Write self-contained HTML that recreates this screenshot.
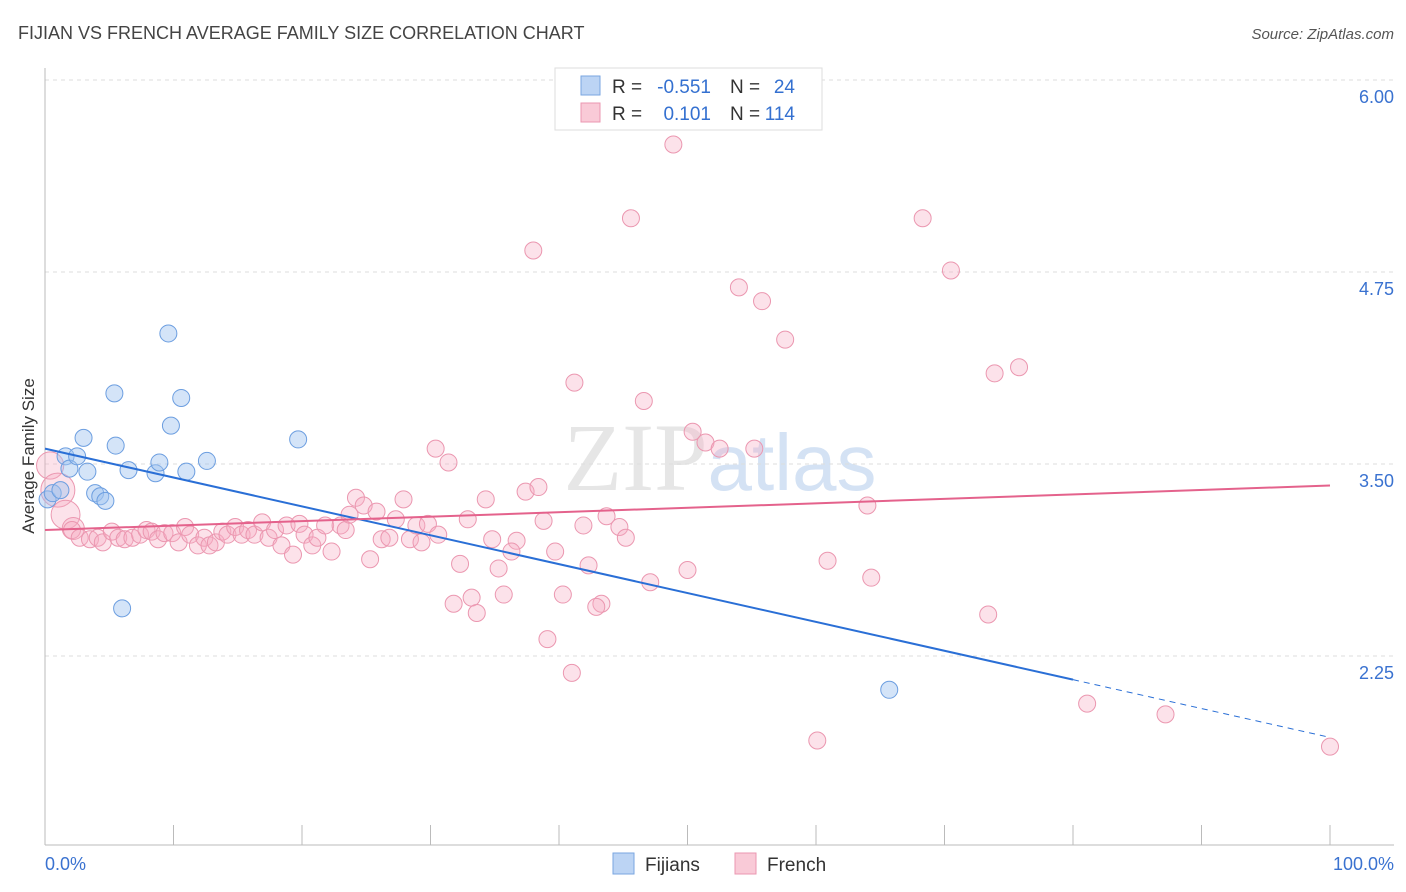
<!DOCTYPE html>
<html><head><meta charset="utf-8">
<style>
body{margin:0;background:#fff;font-family:"Liberation Sans",sans-serif;}
svg{display:block}
</style></head>
<body>
<svg id="chart" width="1406" height="892" xmlns="http://www.w3.org/2000/svg">
<text x="18" y="39" font-size="18" fill="#444">FIJIAN VS FRENCH AVERAGE FAMILY SIZE CORRELATION CHART</text>
<text x="1394" y="39" font-size="15" fill="#555" font-style="italic" text-anchor="end">Source: ZipAtlas.com</text>
<text x="720" y="490" font-size="96" fill="#e6e6e6" text-anchor="middle" font-family="Liberation Serif, serif">ZIP<tspan fill="#d4e2f4" font-family="Liberation Sans, sans-serif" font-size="80">atlas</tspan></text>
<g id="grid"></g>
<g id="axes"></g>
<g id="marks"></g>
<g id="trends"></g>
<text transform="translate(34,456) rotate(-90)" font-size="17" fill="#333" text-anchor="middle">Average Family Size</text>
<g font-size="19">
<rect x="555" y="68" width="267" height="62" fill="#fff" stroke="#ddd"/>
<rect x="581" y="76" width="19" height="19" fill="#bcd4f4" stroke="#7aa6e0"/>
<rect x="581" y="103" width="19" height="19" fill="#f9cad7" stroke="#eb97b0"/>
<text x="612" y="93" fill="#333">R =</text>
<text x="711" y="93" fill="#3470d0" text-anchor="end">-0.551</text>
<text x="730" y="93" fill="#333">N =</text>
<text x="795" y="93" fill="#3470d0" text-anchor="end">24</text>
<text x="612" y="120" fill="#333">R =</text>
<text x="711" y="120" fill="#3470d0" text-anchor="end">0.101</text>
<text x="730" y="120" fill="#333">N =</text>
<text x="795" y="120" fill="#3470d0" text-anchor="end">114</text>
</g>
<g>
<rect x="613" y="853" width="21" height="21" fill="#bcd4f4" stroke="#7aa6e0"/>
<text x="645" y="871" font-size="19" fill="#333">Fijians</text>
<rect x="735" y="853" width="21" height="21" fill="#f9cad7" stroke="#eb97b0"/>
<text x="767" y="871" font-size="19" fill="#333">French</text>
</g>
</svg>
<script>
const yTicks=[6.00,4.75,3.50,2.25];
const yTickLabels=["6.00","4.75","3.50","2.25"];
const xTickLabels=["0.0%","100.0%"];
const fijiX=[0.2,0.6,1.2,1.6,1.9,2.5,3.0,3.3,3.9,4.3,4.7,5.4,5.5,6.0,6.5,8.6,8.9,9.6,9.8,10.6,11.0,12.6,19.7,65.7];
const fijiY=[3.27,3.31,3.33,3.55,3.47,3.55,3.67,3.45,3.31,3.29,3.26,3.96,3.62,2.56,3.46,3.44,3.51,4.35,3.75,3.93,3.45,3.52,3.66,2.03];
const frX=[0.4,1.0,1.6,2.2,2.1,2.7,3.5,4.1,4.5,5.2,5.7,6.2,6.8,7.4,7.9,8.3,8.8,9.3,9.9,10.4,10.9,11.3,11.9,12.4,12.8,13.3,13.8,14.2,14.8,15.3,15.8,16.3,16.9,17.4,17.9,18.4,18.8,19.3,19.8,20.2,20.8,21.2,21.8,22.3,23.0,23.4,25.3,26.2,26.8,27.3,28.4,28.9,29.3,29.8,30.6,
48.9,45.6,68.3,38.0,70.5,54.0,55.8,57.6,41.2,75.8,73.9,46.6,50.4,51.4,52.5,55.2,30.4,31.4,37.4,38.4,34.3,24.2,24.8,27.9,25.8,23.7,43.7,32.9,38.8,41.9,44.7,64.0,45.2,34.8,36.7,36.3,39.7,32.3,42.3,35.3,50.0,60.9,64.3,47.1,35.7,33.2,31.8,40.3,43.3,42.9,33.6,73.4,39.1,41.0,81.1,87.2,60.1,100];
const frY=[3.49,3.33,3.17,3.08,3.07,3.02,3.01,3.02,2.99,3.06,3.02,3.01,3.02,3.04,3.07,3.06,3.01,3.05,3.05,2.99,3.09,3.04,2.97,3.02,2.97,2.99,3.06,3.04,3.09,3.04,3.07,3.04,3.12,3.02,3.07,2.97,3.10,2.91,3.11,3.04,2.97,3.02,3.10,2.93,3.10,3.07,2.88,3.01,3.02,3.14,3.01,3.10,2.99,3.11,3.04,
5.58,5.10,5.10,4.89,4.76,4.65,4.56,4.31,4.03,4.13,4.09,3.91,3.71,3.64,3.60,3.60,3.60,3.51,3.32,3.35,3.27,3.28,3.23,3.27,3.19,3.17,3.16,3.14,3.13,3.10,3.09,3.23,3.02,3.01,3.00,2.93,2.93,2.85,2.84,2.82,2.81,2.87,2.76,2.73,2.65,2.63,2.59,2.65,2.59,2.57,2.53,2.52,2.36,2.14,1.94,1.87,1.70,1.66];
const frWeight=[3.2,4,3.4,2.6];
const fijiTrend=[3.60,1.72];
const frTrend=[3.07,3.36];
const NS="http://www.w3.org/2000/svg";
const X=p=>45+p*12.85, Y=v=>80+(6-v)*153.6;
function mk(tag,attrs,parent){const e=document.createElementNS(NS,tag);for(const k in attrs)e.setAttribute(k,attrs[k]);document.getElementById(parent).appendChild(e);return e;}
yTicks.forEach((t,i)=>{
 const l=mk('line',{x1:45,x2:1394,y1:Y(t),y2:Y(t),stroke:'#ddd','stroke-dasharray':'4,4'},'grid');
 
 
 const tx=mk('text',{x:1394,y:Y(t)+23,'font-size':18,fill:'#3a72d0','text-anchor':'end'},'grid');
 
 
 tx.textContent=yTickLabels[i];
});
mk('line',{x1:45,x2:45,y1:68,y2:845,stroke:'#bbb'},'axes');
mk('line',{x1:45,x2:1394,y1:845,y2:845,stroke:'#bbb'},'axes');
for(let i=0;i<=10;i++){const t=mk('line',{x1:X(i*10),x2:X(i*10),y1:825,y2:845,stroke:'#bbb'},'axes');
 
 }
const a=mk('text',{x:45,y:870,'font-size':18,fill:'#3a72d0'},'axes');a.textContent=xTickLabels[0];

const b=mk('text',{x:1394,y:870,'font-size':18,fill:'#3a72d0','text-anchor':'end'},'axes');b.textContent=xTickLabels[1];

frX.forEach((x,i)=>{const r=8.5*(i<frWeight.length?frWeight[i]/2:1);
 const c=mk('circle',{cx:X(x),cy:Y(frY[i]),r:r,fill:'rgba(247,172,195,0.35)',stroke:'#eb97b0','stroke-width':1},'marks');
 
 });
fijiX.forEach((x,i)=>{const c=mk('circle',{cx:X(x),cy:Y(fijiY[i]),r:8.5,fill:'rgba(160,195,240,0.45)',stroke:'#6c9ee0','stroke-width':1},'marks');
 
 });
const fy80=fijiTrend[0]+(fijiTrend[1]-fijiTrend[0])*0.8;
const t1=mk('line',{x1:X(0),y1:Y(fijiTrend[0]),x2:X(80),y2:Y(fy80),stroke:'#2a6fd6','stroke-width':2},'trends');

const t2=mk('line',{x1:X(80),y1:Y(fy80),x2:X(100),y2:Y(fijiTrend[1]),stroke:'#2a6fd6','stroke-width':1,'stroke-dasharray':'6,5'},'trends');

const t3=mk('line',{x1:X(0),y1:Y(frTrend[0]),x2:X(100),y2:Y(frTrend[1]),stroke:'#e4628c','stroke-width':2},'trends');

</script>
</body></html>
